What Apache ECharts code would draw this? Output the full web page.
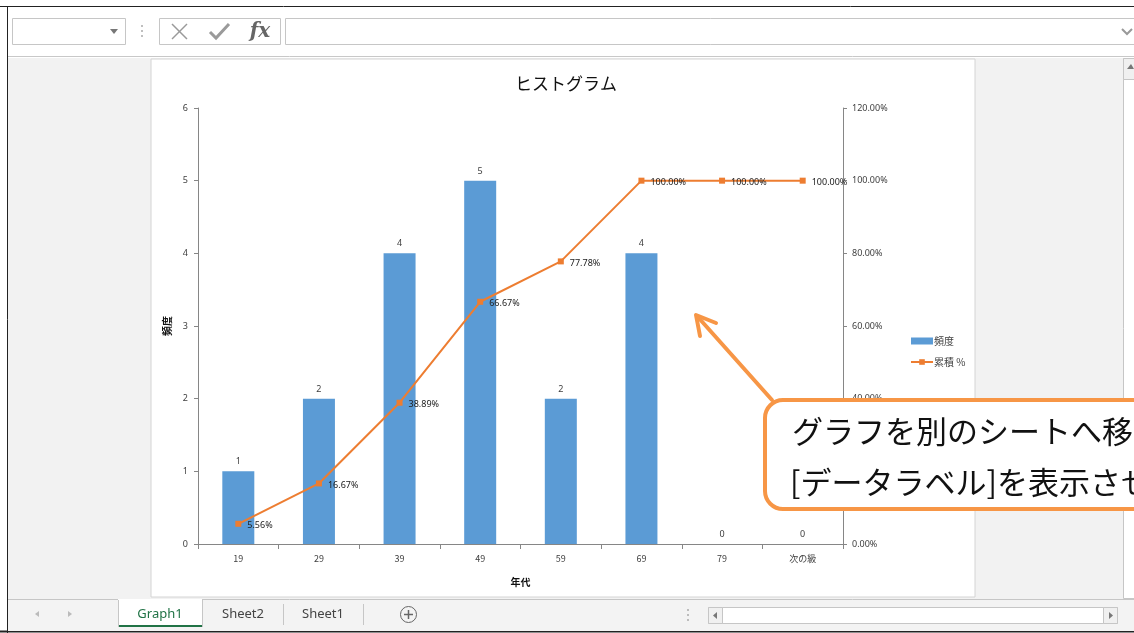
<!DOCTYPE html>
<html>
<head>
<meta charset="utf-8">
<script src="https://cdn.jsdelivr.net/npm/echarts@6/dist/echarts.min.js"></script>
<style>
  html, body { margin: 0; padding: 0; background: #fff; }
  #main { width: 1134px; height: 633px; }
</style>
</head>
<body>
<div id="main"></div>
<script>
// histogram data
const categories = ['19', '29', '39', '49', '59', '69', '79', '次の級'];
const freq = [1, 2, 4, 5, 2, 4, 0, 0];
const cumPct = [5.56, 16.67, 38.89, 66.67, 77.78, 100, 100, 100];
const sheetTabs = ['Graph1', 'Sheet2', 'Sheet1'];

const jp = '"Noto Sans CJK JP", "Noto Sans", sans-serif';
const ui = '"Noto Sans", "DejaVu Sans", sans-serif';
const axisColor = '#868686';
const textColor = '#404040';

const chart = echarts.init(document.getElementById('main'));

// excel window chrome around the chart
const chrome = [
  // worksheet area
  { type: 'rect', shape: { x: 8, y: 58, width: 1126, height: 541 }, style: { fill: '#f2f2f2' }, z: -10 },
  // chart area
  { type: 'rect', shape: { x: 151, y: 59, width: 824, height: 538 }, style: { fill: '#fff', stroke: '#d4d4d4', lineWidth: 1 }, z: -9 },
  // top & left dark borders
  { type: 'line', shape: { x1: 0, y1: 6.5, x2: 1134, y2: 6.5 }, style: { stroke: '#222', lineWidth: 1 } },
  { type: 'line', shape: { x1: 7.5, y1: 6, x2: 7.5, y2: 633 }, style: { stroke: '#222', lineWidth: 1 } },
  { type: 'line', shape: { x1: 0, y1: 631.5, x2: 1134, y2: 631.5 }, style: { stroke: '#222', lineWidth: 2 } },
  // formula bar
  { type: 'rect', shape: { x: 12.5, y: 18.5, width: 113, height: 26 }, style: { fill: '#fff', stroke: '#c6c6c6' } },
  { type: 'polygon', shape: { points: [[110, 29], [118, 29], [114, 34]] }, style: { fill: '#777' } },
  { type: 'circle', shape: { cx: 142, cy: 26, r: 1 }, style: { fill: '#aaa' } },
  { type: 'circle', shape: { cx: 142, cy: 31, r: 1 }, style: { fill: '#aaa' } },
  { type: 'circle', shape: { cx: 142, cy: 36, r: 1 }, style: { fill: '#aaa' } },
  { type: 'rect', shape: { x: 159.5, y: 18.5, width: 121, height: 26 }, style: { fill: '#fff', stroke: '#c6c6c6' } },
  { type: 'line', shape: { x1: 172, y1: 24, x2: 187, y2: 39 }, style: { stroke: '#9a9a9a', lineWidth: 1.5 } },
  { type: 'line', shape: { x1: 187, y1: 24, x2: 172, y2: 39 }, style: { stroke: '#9a9a9a', lineWidth: 1.5 } },
  { type: 'polyline', shape: { points: [[210, 32], [216, 38], [229, 24]] }, style: { stroke: '#9a9a9a', lineWidth: 3, fill: null } },
  { type: 'text', style: { x: 260, y: 32, text: 'fx', font: 'italic bold 20px "DejaVu Serif", serif', fill: '#666', align: 'center', verticalAlign: 'middle' } },
  { type: 'rect', shape: { x: 285.5, y: 18.5, width: 860, height: 26 }, style: { fill: '#fff', stroke: '#c6c6c6' } },
  { type: 'polyline', shape: { points: [[1122, 29], [1127, 34], [1132, 29]] }, style: { stroke: '#999', lineWidth: 2, fill: null } },
  { type: 'line', shape: { x1: 8, y1: 56.5, x2: 1134, y2: 56.5 }, style: { stroke: '#c8c8c8', lineWidth: 1 } },
  // vertical scrollbar
  { type: 'rect', shape: { x: 1123.5, y: 58.5, width: 12, height: 540 }, style: { fill: '#fff', stroke: '#c6c6c6' } },
  { type: 'rect', shape: { x: 1123.5, y: 58.5, width: 12, height: 21 }, style: { fill: '#f0f0f0', stroke: '#c6c6c6' } },
  { type: 'polygon', shape: { points: [[1127, 69], [1134, 69], [1131, 64]] }, style: { fill: '#777' } },
  // bottom tab bar
  { type: 'rect', shape: { x: 8, y: 599, width: 1126, height: 32 }, style: { fill: '#f3f3f3' } },
  { type: 'line', shape: { x1: 8, y1: 599.5, x2: 1134, y2: 599.5 }, style: { stroke: '#c6c6c6' } },
  { type: 'polygon', shape: { points: [[39, 611], [39, 617], [35, 614]] }, style: { fill: '#bbb' } },
  { type: 'polygon', shape: { points: [[68, 611], [68, 617], [72, 614]] }, style: { fill: '#bbb' } },
  { type: 'rect', shape: { x: 118, y: 599, width: 84, height: 28 }, style: { fill: '#fff' } },
  { type: 'line', shape: { x1: 118, y1: 626, x2: 202, y2: 626 }, style: { stroke: '#217346', lineWidth: 2 } },
  { type: 'line', shape: { x1: 118.5, y1: 600, x2: 118.5, y2: 627 }, style: { stroke: '#c6c6c6' } },
  { type: 'line', shape: { x1: 202.5, y1: 600, x2: 202.5, y2: 627 }, style: { stroke: '#c6c6c6' } },
  { type: 'line', shape: { x1: 283.5, y1: 604, x2: 283.5, y2: 625 }, style: { stroke: '#c6c6c6' } },
  { type: 'line', shape: { x1: 363.5, y1: 604, x2: 363.5, y2: 625 }, style: { stroke: '#c6c6c6' } },
  { type: 'text', style: { x: 160, y: 614, text: sheetTabs[0], font: '13px ' + ui, fill: '#217346', align: 'center', verticalAlign: 'middle' } },
  { type: 'text', style: { x: 243, y: 614, text: sheetTabs[1], font: '13px ' + ui, fill: '#444', align: 'center', verticalAlign: 'middle' } },
  { type: 'text', style: { x: 323, y: 614, text: sheetTabs[2], font: '13px ' + ui, fill: '#444', align: 'center', verticalAlign: 'middle' } },
  { type: 'circle', shape: { cx: 408.5, cy: 614.5, r: 8 }, style: { fill: null, stroke: '#666', lineWidth: 1 } },
  { type: 'line', shape: { x1: 404, y1: 614.5, x2: 413, y2: 614.5 }, style: { stroke: '#666', lineWidth: 1.5 } },
  { type: 'line', shape: { x1: 408.5, y1: 610, x2: 408.5, y2: 619 }, style: { stroke: '#666', lineWidth: 1.5 } },
  { type: 'circle', shape: { cx: 688, cy: 610, r: 1 }, style: { fill: '#aaa' } },
  { type: 'circle', shape: { cx: 688, cy: 615, r: 1 }, style: { fill: '#aaa' } },
  { type: 'circle', shape: { cx: 688, cy: 620, r: 1 }, style: { fill: '#aaa' } },
  { type: 'rect', shape: { x: 708.5, y: 607.5, width: 409, height: 16 }, style: { fill: '#fff', stroke: '#c6c6c6' } },
  { type: 'rect', shape: { x: 708.5, y: 607.5, width: 14, height: 16 }, style: { fill: '#f0f0f0', stroke: '#c6c6c6' } },
  { type: 'rect', shape: { x: 1103.5, y: 607.5, width: 14, height: 16 }, style: { fill: '#f0f0f0', stroke: '#c6c6c6' } },
  { type: 'polygon', shape: { points: [[717, 612], [717, 619], [713, 615.5]] }, style: { fill: '#777' } },
  { type: 'polygon', shape: { points: [[1109, 612], [1109, 619], [1113, 615.5]] }, style: { fill: '#777' } }
];

// orange callout and arrow drawn over the chart
const callout = [
  { type: 'line', shape: { x1: 772, y1: 400, x2: 697, y2: 316 }, style: { stroke: '#F79646', lineWidth: 4, lineCap: 'round' }, z: 100 },
  { type: 'polyline', shape: { points: [[716, 323], [696, 315], [700, 336]] }, style: { stroke: '#F79646', lineWidth: 4, fill: null, lineCap: 'round', lineJoin: 'round' }, z: 100 },
  { type: 'rect', shape: { x: 765, y: 400, width: 420, height: 109, r: 18 }, style: { fill: '#fff', stroke: '#F79646', lineWidth: 4 }, z: 101 },
  { type: 'text', style: { x: 792, y: 431, text: 'グラフを別のシートへ移動', font: '31px ' + jp, fill: '#111', verticalAlign: 'middle' }, z: 102 },
  { type: 'text', style: { x: 790, y: 482, text: '[データラベル]を表示させる', font: '31px ' + jp, fill: '#111', verticalAlign: 'middle' }, z: 102 }
];

const option = {
  backgroundColor: '#fff',
  animation: false,
  title: {
    text: 'ヒストグラム',
    left: 561,
    top: 70,
    textAlign: 'center',
    textStyle: { fontFamily: jp, fontSize: 17, fontWeight: 'normal', color: '#111' }
  },
  legend: {
    orient: 'vertical',
    left: 905,
    top: 331,
    itemWidth: 22,
    itemHeight: 7,
    itemGap: 11,
    textStyle: { fontFamily: jp, fontSize: 10, color: textColor, padding: [0, 0, 0, -4] },
    data: [
      { name: '頻度', icon: 'rect' },
      { name: '累積 %' }
    ]
  },
  grid: { left: 198, right: 291, top: 108, bottom: 89, containLabel: false },
  xAxis: {
    type: 'category',
    data: categories,
    name: '年代',
    nameLocation: 'middle',
    nameGap: 33,
    nameTextStyle: { fontFamily: jp, fontSize: 10, fontWeight: 'bold', color: '#111' },
    axisLine: { lineStyle: { color: axisColor } },
    axisTick: { show: true, length: 5, lineStyle: { color: axisColor } },
    axisLabel: { fontFamily: jp, fontSize: 9, color: textColor, margin: 10 },
    splitLine: { show: false }
  },
  yAxis: [
    {
      type: 'value',
      min: 0,
      max: 6,
      interval: 1,
      name: '頻度',
      nameLocation: 'middle',
      nameGap: 26,
      nameRotate: 90,
      nameTextStyle: { fontFamily: jp, fontSize: 10, fontWeight: 'bold', color: '#111' },
      axisLine: { show: true, lineStyle: { color: axisColor } },
      axisTick: { show: true, length: 4, lineStyle: { color: axisColor } },
      axisLabel: { fontFamily: ui, fontSize: 9, color: textColor, margin: 10 },
      splitLine: { show: false }
    },
    {
      type: 'value',
      min: 0,
      max: 120,
      interval: 20,
      position: 'right',
      axisLine: { show: true, lineStyle: { color: axisColor } },
      axisTick: { show: true, length: 4, lineStyle: { color: axisColor } },
      axisLabel: { fontFamily: ui, fontSize: 9, color: textColor, margin: 9, formatter: v => v.toFixed(2) + '%' },
      splitLine: { show: false }
    }
  ],
  series: [
    {
      name: '頻度',
      type: 'bar',
      data: freq,
      barWidth: 32,
      itemStyle: { color: '#5B9BD5' },
      label: { show: true, position: 'top', distance: 5, fontFamily: ui, fontSize: 9, color: textColor }
    },
    {
      name: '累積 %',
      type: 'line',
      yAxisIndex: 1,
      data: cumPct,
      symbol: 'rect',
      symbolSize: 6,
      itemStyle: { color: '#ED7D31' },
      lineStyle: { color: '#ED7D31', width: 2 },
      label: {
        show: true,
        position: 'right',
        distance: 6,
        offset: [0, 2],
        fontFamily: ui,
        fontSize: 9,
        color: '#222',
        formatter: p => p.value.toFixed(2) + '%'
      }
    }
  ],
  graphic: chrome.concat(callout)
};

chart.setOption(option);
</script>
</body>
</html>
